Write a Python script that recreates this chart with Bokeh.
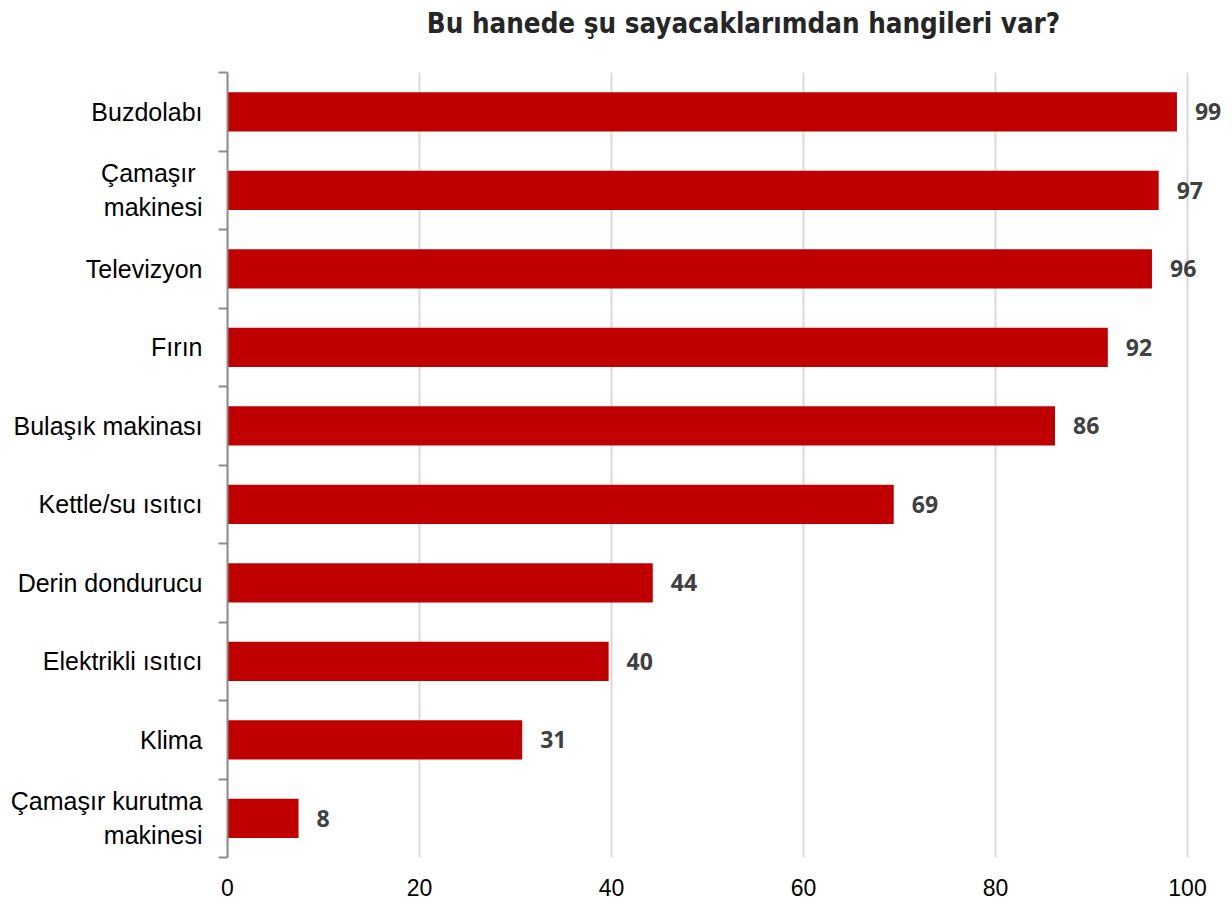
from bokeh.plotting import figure
from bokeh.models import Range1d, FixedTicker, ColumnDataSource, Label
from bokeh.core.properties import value
from bokeh.embed import file_html
from bokeh.resources import INLINE

# ---- data (top to bottom) ----
categories = ["Buzdolabı", "Çamaşır \nmakinesi", "Televizyon", "Fırın", "Bulaşık makinası",
              "Kettle/su ısıtıcı", "Derin dondurucu", "Elektrikli ısıtıcı", "Klima",
              "Çamaşır kurutma\nmakinesi"]
values = [98.9, 97.0, 96.3, 91.7, 86.2, 69.4, 44.3, 39.7, 30.7, 7.4]
value_labels = ["99", "97", "96", "92", "86", "69", "44", "40", "31", "8"]
x_ticks = [0, 20, 40, 60, 80, 100]
title_text = "Bu hanede şu sayacaklarımdan hangileri var?"

n = len(categories)
ypos = [n - 0.5 - i for i in range(n)]

src = ColumnDataSource(dict(y=ypos, v=values, lab=value_labels))

# ---- layout constants (pixels) ----
W, H = 1232, 905
BL, BB = 227, 48          # left / bottom borders
TITLE_AREA = 72           # space above the category bands, inside the frame
frame_h = H - BB
band = (frame_h - TITLE_AREA) / n

p = figure(width=W, height=H, output_backend="svg", toolbar_location=None,
           x_range=Range1d(0, (W - BL) / 9.6), y_range=Range1d(0, n + TITLE_AREA / band),
           min_border_left=BL, min_border_right=0, min_border_top=0, min_border_bottom=BB)
p.outline_line_color = None
p.background_fill_color = "white"

# vertical gridlines limited to the category area
p.segment(x0=x_ticks, y0=[0] * len(x_ticks), x1=x_ticks, y1=[n] * len(x_ticks),
          line_color="#d9d9d9", line_width=2)

p.hbar(y="y", right="v", left=0, height=0.5, source=src, color="#C00000", line_color=None)
p.text(x="v", y="y", text="lab", source=src, x_offset=18, text_baseline="middle",
       text_align="left", text_font=value("Open Sans"), text_font_style="bold",
       text_font_size="23px", text_color="#404040")

# title (screen units are relative to the frame: x from left, y from bottom)
title = Label(x=743 - BL, y=frame_h - 22, x_units="screen", y_units="screen", text=title_text,
              text_align="center", text_baseline="middle",
              text_font="'DejaVu Sans Condensed', 'Liberation Sans', sans-serif",
              text_font_style="bold", text_font_size="27.5px", text_color="#262626")
p.add_layout(title)

# x axis
xa = p.xaxis[0]
xa.ticker = FixedTicker(ticks=x_ticks)
xa.axis_line_color = None
xa.major_tick_line_color = None
xa.minor_tick_line_color = None
xa.major_label_text_font = "Liberation Sans"
xa.major_label_text_font_size = "23px"
xa.major_label_text_color = "#000000"
xa.major_label_standoff = 15

# y axis
ya = p.yaxis[0]
ya.bounds = (0, n)
ya.ticker = FixedTicker(ticks=ypos, minor_ticks=list(range(n + 1)))
ya.major_label_overrides = {y: c for y, c in zip(ypos, categories)}
ya.axis_line_color = "#8c8c8c"
ya.axis_line_width = 2
ya.major_tick_line_color = None
ya.major_tick_out = 0
ya.major_tick_in = 0
ya.minor_tick_line_color = "#8c8c8c"
ya.minor_tick_line_width = 2
ya.minor_tick_out = 9
ya.minor_tick_in = 0
ya.major_label_standoff = 16
ya.major_label_text_font = "Liberation Sans"
ya.major_label_text_font_size = "25px"
ya.major_label_text_color = "#000000"

p.xgrid.grid_line_color = None
p.ygrid.grid_line_color = None

open("out.html", "w").write(file_html(p, INLINE))
